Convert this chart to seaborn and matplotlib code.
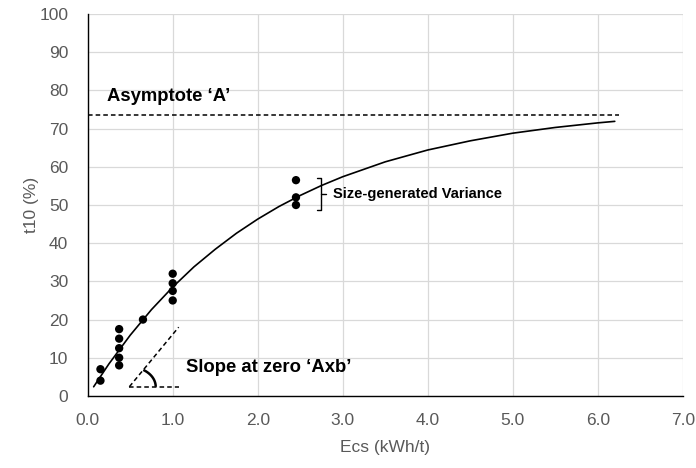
import matplotlib
matplotlib.use("Agg")
import matplotlib.pyplot as plt
import seaborn as sns
import pandas as pd
import numpy as np

# measured points
ecs = [0.15, 0.15, 0.37, 0.37, 0.37, 0.37, 0.37, 0.65, 1.0, 1.0, 1.0, 1.0, 2.45, 2.45, 2.45]
t10 = [4.0, 7.0, 8.0, 10.0, 12.5, 15.0, 17.5, 20.0, 25.0, 27.5, 29.5, 32.0, 50.0, 52.0, 56.5]

# fitted curve
curve_x = [0.07, 0.25, 0.5, 0.75, 1.0, 1.25, 1.5, 1.75, 2.0, 2.25, 2.5, 2.75, 3.0, 3.5, 4.0, 4.5, 5.0, 5.5, 6.0, 6.2]
curve_y = [2.4, 8.4, 15.9, 22.6, 28.5, 33.8, 38.4, 42.6, 46.3, 49.6, 52.5, 55.1, 57.4, 61.3, 64.4, 66.8, 68.8, 70.3, 71.5, 71.9]

asymptote = 73.5
slope_x = [0.49, 1.07]
slope_y = [2.4, 18.0]

x_ticks = [0, 1, 2, 3, 4, 5, 6, 7]
y_ticks = [0, 10, 20, 30, 40, 50, 60, 70, 80, 90, 100]

sns.set_style("white")
plt.rcParams["font.family"] = ["Liberation Sans", "DejaVu Sans"]
plt.rcParams["text.color"] = "black"

fig = plt.figure(figsize=(6.96, 4.68), dpi=100)
ax = fig.add_axes([0.126, 0.154, 0.855, 0.816])

grey = "#595959"
ax.grid(True, color="#d9d9d9", lw=0.9)
ax.set_axisbelow(True)

df = pd.DataFrame({"x": ecs, "y": t10})
curve = pd.DataFrame({"x": curve_x, "y": curve_y})
sns.lineplot(curve, x="x", y="y", color="black", lw=1.2, sort=False, estimator=None, ax=ax)
sns.scatterplot(df, x="x", y="y", color="black", s=36, edgecolor="none", zorder=3, ax=ax)

# asymptote
ax.plot([0, 6.25], [asymptote, asymptote], color="black", lw=1.1, ls=(0, (3, 2)))
ax.text(0.23, 78.3, "Asymptote \u2018A\u2019", fontsize=13.3, fontweight="bold", va="center")

# slope at zero
ax.plot(slope_x, slope_y, color="black", lw=1.1, ls=(0, (3, 2)))
ax.plot([slope_x[0], slope_x[1]], [slope_y[0], slope_y[0]], color="black", lw=1.1, ls=(0, (3, 2)))
# angle arc (85 px per x unit, 3.82 px per y unit)
theta = np.linspace(0, np.radians(58), 30)
ax.plot(slope_x[0] + 0.31 * np.cos(theta), slope_y[0] + 5.2 * np.sin(theta),
        color="black", lw=1.8, solid_capstyle="butt")
ax.text(1.16, 7.4, "Slope at zero \u2018Axb\u2019", fontsize=13.3, fontweight="bold", va="center")

# variance bracket
bx, btop, bbot = 2.75, 57.0, 48.7
ax.plot([bx - 0.05, bx, bx, bx - 0.05], [btop, btop, bbot, bbot], color="black", lw=1.0)
ax.plot([bx, bx + 0.05], [(btop + bbot) / 2] * 2, color="black", lw=1.0)
ax.text(2.88, 53.0, "Size-generated Variance", fontsize=10.5, fontweight="bold", va="center")

ax.set_xlim(0, 7)
ax.set_ylim(0, 100)
ax.set_xticks(x_ticks)
ax.set_xticklabels([f"{v:.1f}" for v in x_ticks])
ax.set_yticks(y_ticks)
ax.tick_params(length=0, labelsize=12.5, colors=grey)
ax.tick_params(axis="x", pad=12)
ax.tick_params(axis="y", pad=14)
ax.set_xlabel("Ecs (kWh/t)", fontsize=12.5, color=grey, labelpad=9)
ax.set_ylabel("t10 (%)", fontsize=12.5, color=grey, labelpad=0)

for s in ["top", "right"]:
    ax.spines[s].set_visible(False)
for s in ["left", "bottom"]:
    ax.spines[s].set_color("black")
    ax.spines[s].set_linewidth(1.0)

fig.savefig("out.png", dpi=100)
